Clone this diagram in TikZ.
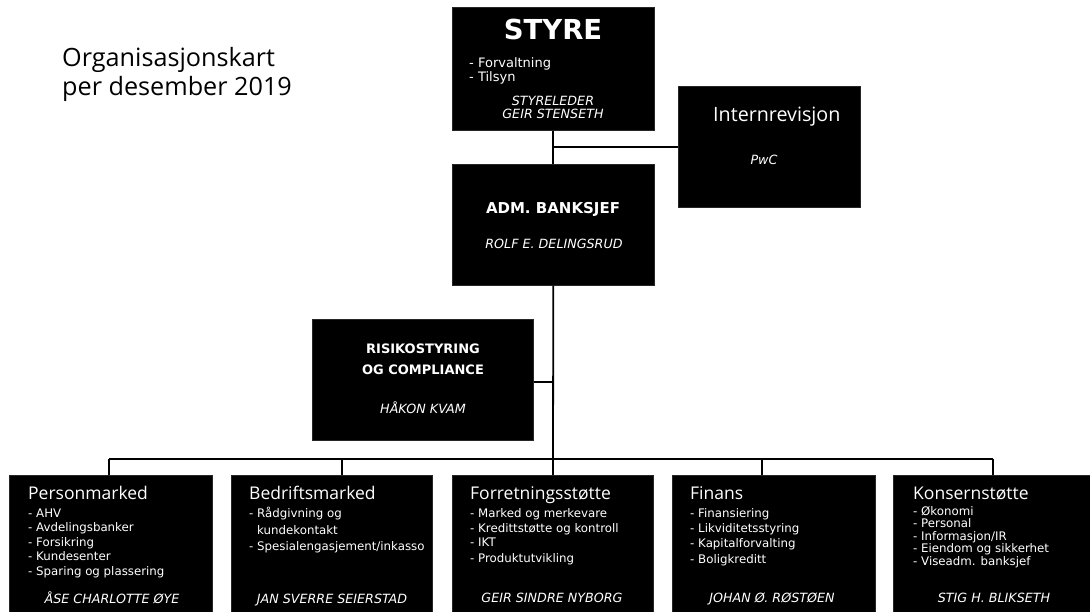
\documentclass[tikz,border=0pt]{standalone}
\usepackage{fontspec}
\setmainfont{Open Sans}
\newfontfamily\dvs{DejaVu Sans}
\usetikzlibrary{calc}
\newcommand{\myfs}[1]{\fontsize{#1}{#1}\selectfont}
\tikzset{
  orgbox/.style={fill=black, draw=black!85, line width=0.6pt, inner sep=0pt, anchor=north west},
  conn/.style={draw=black, line width=1.8pt},
  wtxt/.style={text=white, inner sep=0pt},
  itemtxt/.style={wtxt, anchor=base west, font=\dvs\myfs{11.8}},
  persontxt/.style={wtxt, anchor=base, font=\dvs\myfs{12.7}\itshape},
  headtxt/.style={wtxt, anchor=base west, font=\myfs{17.5}},
  captxt/.style={wtxt, anchor=base, font=\dvs\myfs{13}\bfseries},
}
\begin{document}
\begin{tikzpicture}[x=1pt,y=-1pt]
\useasboundingbox[fill=white] (0,0) rectangle (1090,611);

% title
\node[anchor=base west, inner sep=0pt, font=\myfs{25.2}] (t1) at (62,66) {Organisasjonskart};
\node[anchor=base west, inner sep=0pt, font=\myfs{25.2}] (t2) at (62,95) {per desember 2019};

% boxes
\node[orgbox, minimum width=202pt, minimum height=123pt] (styre) at (452,7) {};
\node[orgbox, minimum width=182pt, minimum height=121pt] (intern) at (678,86) {};
\node[orgbox, minimum width=202pt, minimum height=121pt] (adm) at (452,164) {};
\node[orgbox, minimum width=221pt, minimum height=121pt] (risk) at (312,319) {};
\node[orgbox, minimum width=203pt, minimum height=137pt] (pm) at (9,475) {};
\node[orgbox, minimum width=201pt, minimum height=137pt] (bed) at (231,475) {};
\node[orgbox, minimum width=201pt, minimum height=137pt] (fors) at (452,475) {};
\node[orgbox, minimum width=203pt, minimum height=137pt] (fin) at (672,475) {};
\node[orgbox, minimum width=198pt, minimum height=137pt] (kon) at (893,475) {};

% connectors
\draw[conn] (styre.south) -- (adm.north);
\coordinate (j1) at (553,147);
\draw[conn] (j1) -- (j1 -| intern.west);
\coordinate (jb) at (553,459);
\draw[conn] (adm.south) -- (jb);
\coordinate (jr) at (553,382);
\draw[conn] (jr -| risk.east) -- (jr);
\coordinate (d1) at (109,459);
\coordinate (d2) at (342,459);
\coordinate (d3) at (553,459);
\coordinate (d4) at (762,459);
\coordinate (d5) at (993,459);
\draw[conn] (d1) -- (d5);
\draw[conn] (d1) -- (d1 |- pm.north);
\draw[conn] (d2) -- (d2 |- bed.north);
\draw[conn] (d3) -- (d3 |- fors.north);
\draw[conn] (d4) -- (d4 |- fin.north);
\draw[conn] (d5) -- (d5 |- kon.north);

% STYRE
\node[wtxt, anchor=base, font=\dvs\myfs{27.5}\bfseries] (st) at (553,39) {STYRE};
\node[itemtxt, font=\dvs\myfs{13}] (st1) at (469,67) {- Forvaltning};
\node[itemtxt, font=\dvs\myfs{13}] (st2) at (469,81) {- Tilsyn};
\node[persontxt] (st3) at (553,105) {STYRELEDER};
\node[persontxt] (st4) at (553,118) {GEIR STENSETH};

% Internrevisjon
\node[wtxt, anchor=base west, font=\myfs{19.7}] (ir) at (713,121) {Internrevisjon};
\node[persontxt] (ir1) at (764,164) {PwC};

% ADM
\node[captxt, font=\dvs\myfs{15}\bfseries] (ad) at (553,213) {ADM. BANKSJEF};
\node[persontxt] (ad1) at (554,248) {ROLF E. DELINGSRUD};

% Risiko
\node[captxt] (rk1) at (423,353) {RISIKOSTYRING};
\node[captxt] (rk2) at (423,374) {OG COMPLIANCE};
\node[persontxt] (rk3) at (423,413) {HÅKON KVAM};

% Personmarked
\node[headtxt] (pmh) at (28,499) {Personmarked};
\node[itemtxt] (pm1) at (28,517) {- AHV};
\node[itemtxt] (pm2) at (28,531.5) {- Avdelingsbanker};
\node[itemtxt] (pm3) at (28,546) {- Forsikring};
\node[itemtxt] (pm4) at (28,560.5) {- Kundesenter};
\node[itemtxt] (pm5) at (28,575) {- Sparing og plassering};
\node[persontxt] (pmn) at (112,603) {ÅSE CHARLOTTE ØYE};

% Bedriftsmarked
\node[headtxt] (bdh) at (249,499) {Bedriftsmarked};
\node[itemtxt] (bd1) at (249,517) {- Rådgivning og};
\node[itemtxt] (bd2) at (257,534) {kundekontakt};
\node[itemtxt] (bd3) at (249,550) {- Spesialengasjement/inkasso};
\node[persontxt] (bdn) at (332,603) {JAN SVERRE SEIERSTAD};

% Forretningsstøtte
\node[headtxt] (foh) at (470,499) {Forretningsstøtte};
\node[itemtxt] (fo1) at (470,517) {- Marked og merkevare};
\node[itemtxt] (fo2) at (470,532) {- Kredittstøtte og kontroll};
\node[itemtxt] (fo3) at (470,546) {- IKT};
\node[itemtxt] (fo4) at (470,562) {- Produktutvikling};
\node[persontxt] (fon) at (552,602) {GEIR SINDRE NYBORG};

% Finans
\node[headtxt] (fih) at (690,499) {Finans};
\node[itemtxt] (fi1) at (690,517) {- Finansiering};
\node[itemtxt] (fi2) at (690,532) {- Likviditetsstyring};
\node[itemtxt] (fi3) at (690,547) {- Kapitalforvalting};
\node[itemtxt] (fi4) at (690,563) {- Boligkreditt};
\node[persontxt] (fin1) at (772,602) {JOHAN Ø. RØSTØEN};

% Konsernstøtte
\node[headtxt] (koh) at (913,499) {Konsernstøtte};
\node[itemtxt] (ko1) at (913,515) {- Økonomi};
\node[itemtxt] (ko2) at (913,527.5) {- Personal};
\node[itemtxt] (ko3) at (913,540) {- Informasjon/IR};
\node[itemtxt] (ko4) at (913,552.5) {- Eiendom og sikkerhet};
\node[itemtxt] (ko5) at (913,565) {- Viseadm. banksjef};
\node[persontxt] (kon1) at (994,602) {STIG H. BLIKSETH};
\end{tikzpicture}
\end{document}
